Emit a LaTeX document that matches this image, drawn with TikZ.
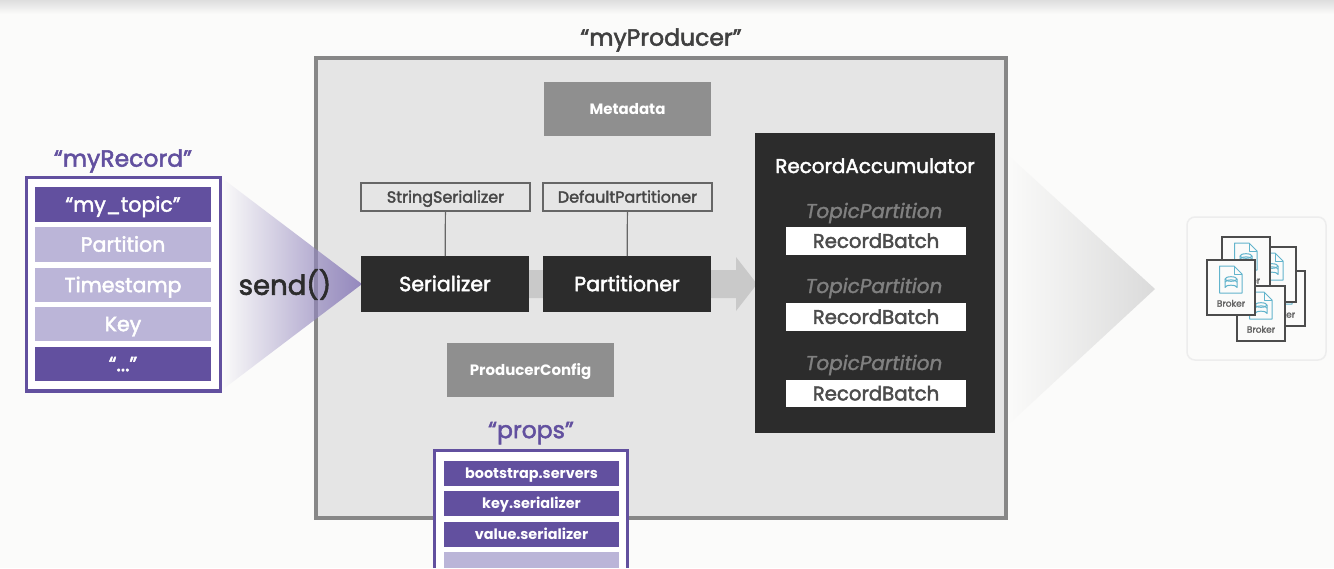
\documentclass[tikz,border=0pt]{standalone}
\usepackage{fontspec}
\setmainfont{Poppins}[ItalicFeatures={FakeBold=1.5}]
\newfontfamily\medf[FakeBold=2.2]{Poppins}
\usetikzlibrary{fadings}
\definecolor{bgc}{HTML}{FBFBFA}
\definecolor{purp}{HTML}{62509F}
\definecolor{lpurp}{HTML}{BBB5D8}
\definecolor{ink}{HTML}{2C2C2C}
\definecolor{midgrey}{HTML}{8F8F8F}
\definecolor{teal}{HTML}{62B4CC}
\tikzfading[name=fadeup, left color=transparent!100, middle color=transparent!72, right color=transparent!0]
\tikzset{
  bx/.style={rectangle,inner sep=0pt,outer sep=0pt,align=center},
  darkbox/.style={bx,fill=ink,text=white,text height=14.4pt,text depth=0pt,font=\medf\fontsize{20.6}{24}\selectfont},
  greybox/.style={bx,fill=midgrey,text=white,text height=10.5pt,text depth=0pt,font=\bfseries\fontsize{15}{18}\selectfont},
  thinbox/.style={bx,draw=black!60,line width=1.2pt,text=black!72,text height=11.2pt,text depth=0pt,font=\medf\fontsize{16}{19}\selectfont},
  batch/.style={bx,fill=white,text=ink!85,text height=13.8pt,text depth=0pt,font=\medf\fontsize{19.7}{23}\selectfont},
  outerbox/.style={bx,fill=white,draw=purp,line width=3.5pt},
  rowd/.style={bx,fill=purp,text=white,text height=14.4pt,text depth=0pt,font=\medf\fontsize{20.5}{24}\selectfont},
  rowl/.style={bx,fill=lpurp,text=white,text height=14.4pt,text depth=0pt,font=\medf\fontsize{20.5}{24}\selectfont},
  rowp/.style={bx,fill=purp,text=white,text height=10pt,text depth=0pt,font=\bfseries\fontsize{14.4}{17}\selectfont},
  tp/.style={text=black!50,inner sep=0pt,font=\itshape\fontsize{20}{24}\selectfont},
  ttl/.style={text=purp,inner sep=0pt,font=\medf\fontsize{23.5}{28}\selectfont},
  cardb/.style={bx,fill=bgc,draw=black!70,line width=1.5pt},
  doc/.style={draw=teal,line width=1pt,line join=round},
}
\newcommand{\bxat}[7]{\node[#6,minimum width={(#4-#2)*1pt},minimum height={(#5-#3)*1pt}] (#1) at ({(#2+#4)/2},{(#3+#5)/2}) {#7};}
\newcommand{\brokercard}[3]{%
  \bxat{#1}{#2}{#3}{#2+48}{#3+55}{cardb}{}
  \begin{scope}[shift={(#2,#3)}]
    \draw[doc] (12.5,6) -- (27,6) -- (35,14) -- (35,33) -- (12.5,33) -- cycle;
    \draw[doc] (27,6) -- (27,14) -- (35,14);
    \draw[doc] (24,19) ellipse[x radius=6,y radius=2.3];
    \draw[doc] (18,19) -- (18,27.5) arc[start angle=180,end angle=360,x radius=6,y radius=2.3] -- (30,19);
    \draw[doc] (18,22.2) arc[start angle=180,end angle=360,x radius=6,y radius=2.3];
    \node[inner sep=0pt,text=black!60,text height=6.3pt,text depth=0pt,font=\medf\fontsize{9}{11}\selectfont] (#1t) at (24,43.5) {Broker};
  \end{scope}}
\begin{document}
\begin{tikzpicture}[x=1pt,y=-1pt]
\useasboundingbox (0,0) rectangle (1334,568);
\fill[bgc] (0,0) rectangle (1334,568);
\shade[top color=black!13,bottom color=bgc] (0,0) rectangle (1334,14);
% producer frame
\bxat{producer}{316}{58}{1006}{518}{bx,fill=black!10,draw=black!47,line width=3.5pt}{}
\node[ttl,text=black!75] (ptitle) at (661,40) {“myProducer”};
% wedges
\coordinate (lwa) at (222,178); \coordinate (lwb) at (362,284); \coordinate (lwc) at (222,390);
\fill[purp!68,path fading=fadeup,fit fading=true] (lwa) -- (lwb) -- (lwc) -- cycle;
\coordinate (rwa) at (1008,155); \coordinate (rwb) at (1155,289); \coordinate (rwc) at (1008,425);
\fill[black!14,path fading=fadeup,fit fading=true] (rwa) -- (rwb) -- (rwc) -- cycle;
% flow arrow
\coordinate (fa) at (492,270); \coordinate (fb) at (736,270); \coordinate (fc) at (736,257);
\coordinate (fd) at (757,284); \coordinate (fe) at (736,311); \coordinate (ff) at (736,298); \coordinate (fg) at (492,298);
\fill[black!21] (fa) -- (fb) -- (fc) -- (fd) -- (fe) -- (ff) -- (fg) -- cycle;
% inner boxes
\bxat{metadata}{544}{82}{711}{136}{greybox}{Metadata}
\bxat{config}{447}{343}{614}{397}{greybox}{ProducerConfig}
\bxat{strser}{361}{183}{530}{211}{thinbox}{StringSerializer}
\bxat{defpart}{543}{183}{712}{211}{thinbox}{DefaultPartitioner}
\bxat{ser}{361}{256}{529}{312}{darkbox}{Serializer}
\bxat{part}{543}{256}{711}{312}{darkbox}{Partitioner}
\draw[black!60,line width=1.2pt] (strser) -- (ser);
\draw[black!60,line width=1.2pt] (defpart) -- (part);
% accumulator
\bxat{acc}{755}{133}{995}{433}{bx,fill=ink}{}
\node[inner sep=0pt,text=white,text height=14pt,text depth=0pt,font=\medf\fontsize{19.9}{24}\selectfont] (acct) at (875,166) {RecordAccumulator};
\node[tp] (tp1) at (874,213) {TopicPartition};
\node[tp] (tp2) at (874,288) {TopicPartition};
\node[tp] (tp3) at (874,365) {TopicPartition};
\bxat{rb1}{786}{227}{966}{255}{batch}{RecordBatch}
\bxat{rb2}{786}{303}{966}{331}{batch}{RecordBatch}
\bxat{rb3}{786}{380}{966}{407}{batch}{RecordBatch}
% record
\node[ttl] (rtitle) at (123,161) {“myRecord”};
\bxat{rec}{26.5}{177.5}{220.5}{391}{outerbox}{}
\bxat{r1}{35}{187}{211}{222}{rowd}{“my\_topic”}
\bxat{r2}{35}{227}{211}{262}{rowl}{Partition}
\bxat{r3}{35}{268}{211}{302}{rowl}{Timestamp}
\bxat{r4}{35}{307}{211}{341}{rowl}{Key}
\bxat{r5}{35}{347}{211}{381}{rowd}{“...”}
\node[inner sep=0pt,text=ink,text height=19.6pt,text depth=0pt,font=\medf\fontsize{27.5}{32}\selectfont] (send) at (285,285) {send()};
% props
\node[ttl] (ptl) at (531,433) {“props”};
\fill[white] (434.5,450.5) rectangle (627.5,568);
\coordinate (pa) at (434.5,568); \coordinate (pb) at (434.5,450.5); \coordinate (pc) at (627.5,450.5); \coordinate (pd) at (627.5,568);
\draw[purp,line width=3.5pt] (pa) -- (pb) -- (pc) -- (pd);
\bxat{p1}{444}{461}{619}{486}{rowp}{bootstrap.servers}
\bxat{p2}{444}{491}{619}{516}{rowp}{key.serializer}
\bxat{p3}{444}{522}{619}{547}{rowp}{value.serializer}
\bxat{p4}{444}{552}{619}{568}{bx,fill=lpurp}{}
% brokers
\node[rectangle,rounded corners=8pt,fill=bgc,draw=black!7,line width=1.5pt,minimum width=139pt,minimum height=143pt,inner sep=0pt] (brokers) at (1256.5,288.5) {};
\brokercard{c3}{1257}{271}
\brokercard{c2}{1248}{247}
\brokercard{c1}{1222}{237}
\brokercard{c5}{1237}{286}
\brokercard{c4}{1207}{260}
\end{tikzpicture}
\end{document}
